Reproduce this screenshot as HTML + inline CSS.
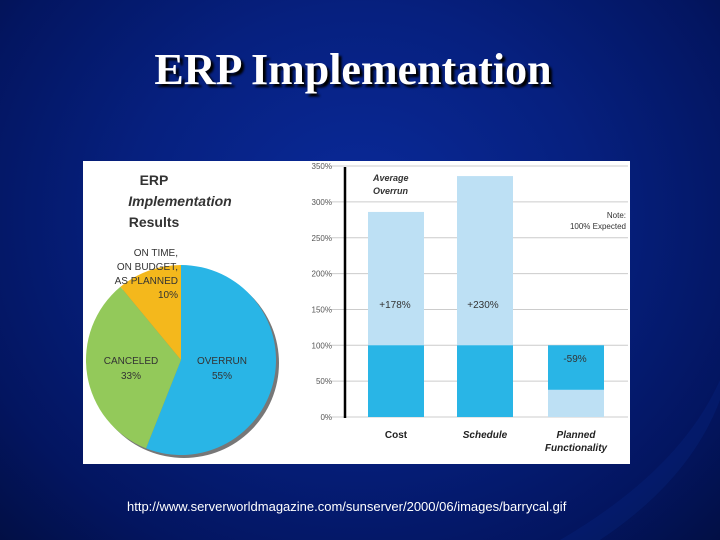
<!DOCTYPE html>
<html><head><meta charset="utf-8"><style>
body{margin:0;width:720px;height:540px;overflow:hidden;background:radial-gradient(ellipse at 50% 40%,#0a2a9a 0%,#06207f 45%,#031560 80%,#020f45 100%);font-family:"Liberation Sans",sans-serif;position:relative}
#title{position:absolute;left:0;width:706px;top:44px;text-align:center;font-family:"Liberation Serif",serif;font-weight:bold;font-size:44px;color:#fff;text-shadow:3px 3px 2px #000}
#cap{position:absolute;left:127px;top:499px;font-size:13px;color:#fff}
svg{position:absolute;left:0;top:0}
</style></head><body>
<div id="title">ERP Implementation</div>
<svg width="720" height="540">
<path d="M560 540 Q680 470 720 380 L720 400 Q690 480 600 540Z" fill="#0b3bb0" opacity="0.15"/>
<rect x="83" y="161" width="547" height="303" fill="#fff"/>
<g id="pie"></g><g id="bars"></g>
</svg>
<div id="cap">http://www.serverworldmagazine.com/sunserver/2000/06/images/barrycal.gif</div>
<script>
const pieLabels=["OVERRUN","CANCELED","ON TIME"];
const pieValues=[56,33,11];
const pieColors=["#29b5e6","#93c95a","#f4b81c"];
const barCats=["Cost","Schedule","Planned Functionality"];
const barTotal=[286,336,100];
const barDark=[100,100,62];
const yTicks=[0,50,100,150,200,250,300,350];
const NS="http://www.w3.org/2000/svg";
function mk(t,a,p,txt){const e=document.createElementNS(NS,t);for(const k in a)e.setAttribute(k,a[k]);if(txt!==undefined)e.textContent=txt;p.appendChild(e);return e;}
const pie=document.getElementById('pie'),bars=document.getElementById('bars');
const cx=181,cy=360,r=95;
mk('circle',{cx:cx+3,cy:cy+3,r:r,fill:'#777'},pie);
let a0=0;const tot=pieValues.reduce((s,v)=>s+v,0);
pieValues.forEach((v,i)=>{const a1=a0+v/tot*2*Math.PI;
const x0=cx+r*Math.sin(a0),y0=cy-r*Math.cos(a0),x1=cx+r*Math.sin(a1),y1=cy-r*Math.cos(a1);
const p=mk('path',{d:`M${cx} ${cy}L${x0} ${y0}A${r} ${r} 0 ${a1-a0>Math.PI?1:0} 1 ${x1} ${y1}Z`,fill:pieColors[i]},pie);

a0=a1;});
const T=(x,y,s,txt,o)=>mk('text',Object.assign({x:x,y:y,'font-size':s,fill:'#333','font-family':'Liberation Sans, sans-serif'},o||{}),pie,txt);
T(154,185,14,"ERP",{'font-weight':'bold','text-anchor':'middle'});
T(180,206,14,"Implementation",{'font-weight':'bold','text-anchor':'middle','font-style':'italic'});
T(154,227,14,"Results",{'font-weight':'bold','text-anchor':'middle'});
T(178,256,10,"ON TIME,",{'text-anchor':'end'});T(178,270,10,"ON BUDGET,",{'text-anchor':'end'});
T(178,284,10,"AS PLANNED",{'text-anchor':'end'});T(178,298,10,"10%",{'text-anchor':'end'});
T(131,364,10,"CANCELED",{'text-anchor':'middle'});T(131,379,10,"33%",{'text-anchor':'middle'});
T(222,364,10,"OVERRUN",{'text-anchor':'middle'});T(222,379,10,"55%",{'text-anchor':'middle'});
const y=v=>417-v*0.717;
yTicks.forEach(t=>{mk('line',{x1:330,x2:628,y1:y(t),y2:y(t),stroke:'#ccc','stroke-width':1},bars);
const l=mk('text',{x:332,y:y(t)+3,'font-size':8,fill:'#555','text-anchor':'end'},bars,t+'%');
});
const xs=[368,457,548],bw=56;
barCats.forEach((c,i)=>{
const lt=mk('rect',{x:xs[i],y:y(barTotal[i]),width:bw,height:y(0)-y(barTotal[i]),fill:'#bde0f4'},bars);

const top=i<2?barDark[i]:100,bot=i<2?0:100-barDark[i];
const dk=mk('rect',{x:xs[i],y:y(top),width:bw,height:y(bot)-y(top),fill:'#29b5e6'},bars);

const parts=c.split(' ');parts.forEach((p,j)=>mk('text',{x:xs[i]+bw/2,y:438+j*13,'font-size':10,'font-weight':'bold','font-style':i?'italic':'normal',fill:'#222','text-anchor':'middle'},bars,p));
});
mk('line',{x1:345,x2:345,y1:167,y2:418,stroke:'#000','stroke-width':2.5},bars);
mk('text',{x:395,y:308,'font-size':10,fill:'#333','text-anchor':'middle'},bars,'+178%');
mk('text',{x:483,y:308,'font-size':10,fill:'#333','text-anchor':'middle'},bars,'+230%');
mk('text',{x:575,y:362,'font-size':10,fill:'#333','text-anchor':'middle'},bars,'-59%');
mk('text',{x:373,y:181,'font-size':9,'font-style':'italic','font-weight':'bold',fill:'#333'},bars,'Average');
mk('text',{x:373,y:194,'font-size':9,'font-style':'italic','font-weight':'bold',fill:'#333'},bars,'Overrun');
mk('text',{x:626,y:218,'font-size':8,fill:'#333','text-anchor':'end'},bars,'Note:');
mk('text',{x:626,y:229,'font-size':8,fill:'#333','text-anchor':'end'},bars,'100% Expected');
</script>
</body></html>
